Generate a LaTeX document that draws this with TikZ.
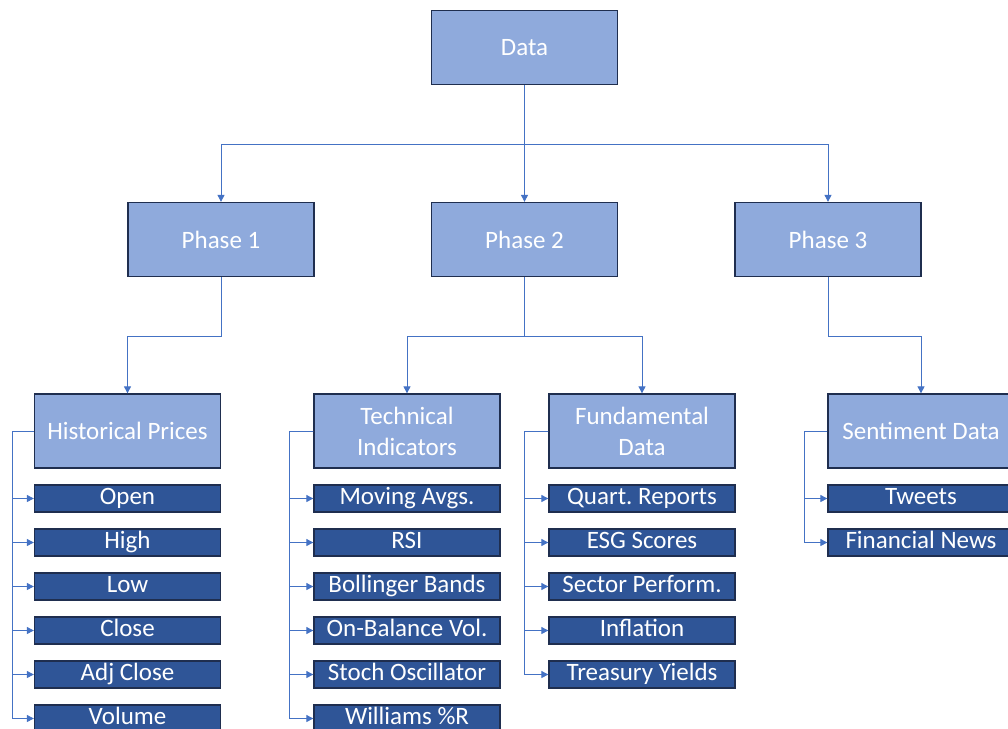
\documentclass[tikz,border=0pt]{standalone}
\usepackage{fontspec}
\setmainfont{Carlito}
\frenchspacing
\usetikzlibrary{arrows.meta}
\definecolor{lightfill}{HTML}{8FAADC}
\definecolor{darkfill}{HTML}{2F5597}
\definecolor{boxedge}{HTML}{1F2E4F}
\definecolor{linkblue}{HTML}{4472C4}
\tikzset{
  x=1pt, y=-1pt,
  mainbox/.style={draw=boxedge, line width=1.3pt, fill=lightfill, text=white,
    minimum width=186pt, minimum height=74pt, inner sep=0pt, align=center,
    font=\fontsize{25}{31}\selectfont},
  itembox/.style={draw=boxedge, line width=1.3pt, fill=darkfill, text=white,
    minimum width=186pt, minimum height=27pt, inner sep=0pt,
    text height=17pt, text depth=5pt,
    font=\fontsize{25}{28}\selectfont},
  link/.style={draw=linkblue, line width=0.9pt, -{Triangle[length=7pt,width=7pt]}},
}
\begin{document}
\begin{tikzpicture}
\useasboundingbox (0,0) rectangle (1008,728);
\clip (0,0) rectangle (1008,728);

% top level and phases
\node[mainbox] (data) at (524.5,47.5) {Data};
\node[mainbox] (p1) at (221,239.5) {Phase 1};
\node[mainbox] (p2) at (524.5,239.5) {Phase 2};
\node[mainbox] (p3) at (828,239.5) {Phase 3};

% data groups
\node[mainbox] (hist) at (127.5,431) {Historical Prices};
\node[mainbox] (tech) at (407,431) {Technical\\Indicators};
\node[mainbox] (fund) at (642,431) {Fundamental\\Data};
\node[mainbox] (sent) at (921,431) {Sentiment Data};

% items
\foreach \name/\txt [count=\i from 0] in {h1/Open,h2/High,h3/Low,h4/Close,h5/Adj Close,h6/Volume}
  \node[itembox] (\name) at (127.5,498.5+44*\i) {\txt};
\foreach \name/\txt [count=\i from 0] in {t1/Moving Avgs.,t2/RSI,t3/Bollinger Bands,t4/On-Balance Vol.,t5/Stoch Oscillator,t6/Williams \%R}
  \node[itembox] (\name) at (407,498.5+44*\i) {\txt};
\foreach \name/\txt [count=\i from 0] in {f1/Quart. Reports,f2/ESG Scores,f3/Sector Perform.,f4/Inflation,f5/Treasury Yields}
  \node[itembox] (\name) at (642,498.5+44*\i) {\txt};
\foreach \name/\txt [count=\i from 0] in {s1/Tweets,s2/Financial News}
  \node[itembox] (\name) at (921,498.5+44*\i) {\txt};

% tree connectors
\coordinate (bus0) at (0,144);
\coordinate (bus1) at (0,336);
\foreach \c in {p1,p2,p3}
  \draw[link] (data.south) |- (bus0 -| \c) -- (\c.north);
\draw[link] (p1.south) |- (bus1 -| hist) -- (hist.north);
\draw[link] (p2.south) |- (bus1 -| tech) -- (tech.north);
\draw[link] (p2.south) |- (bus1 -| fund) -- (fund.north);
\draw[link] (p3.south) |- (bus1 -| sent) -- (sent.north);

% side brackets to items
\coordinate (hx) at (12,0);
\coordinate (tx) at (289,0);
\coordinate (fx) at (524,0);
\coordinate (sx) at (804,0);
\foreach \c in {h1,h2,h3,h4,h5,h6}
  \draw[link] (hist.west) -| (hx |- \c) -- (\c.west);
\foreach \c in {t1,t2,t3,t4,t5,t6}
  \draw[link] (tech.west) -| (tx |- \c) -- (\c.west);
\foreach \c in {f1,f2,f3,f4,f5}
  \draw[link] (fund.west) -| (fx |- \c) -- (\c.west);
\foreach \c in {s1,s2}
  \draw[link] (sent.west) -| (sx |- \c) -- (\c.west);
\end{tikzpicture}
\end{document}
